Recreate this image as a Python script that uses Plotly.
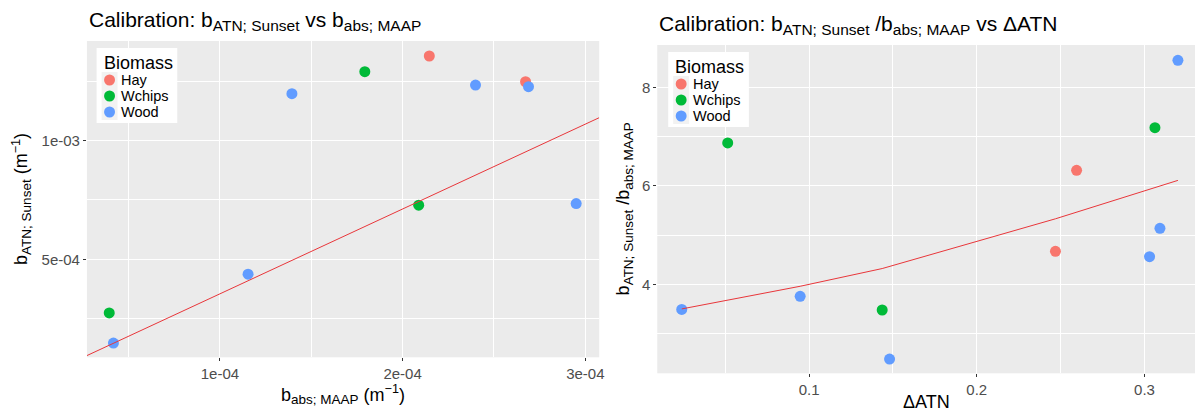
import plotly.graph_objects as go

# ---------------- data ----------------
groups = ["Hay", "Wchips", "Wood"]
colors = {"Hay": "#F8766D", "Wchips": "#00BA38", "Wood": "#619CFF"}

# left panel: b_abs;MAAP (x) vs b_ATN;Sunset (y)
left_hay_x = [2.146e-4, 2.673e-4]
left_hay_y = [1.357e-3, 1.2485e-3]
left_wchips_x = [1.793e-4, 2.088e-4, 0.394e-4]
left_wchips_y = [1.291e-3, 7.28e-4, 2.74e-4]
left_wood_x = [1.394e-4, 2.399e-4, 2.689e-4, 2.950e-4, 1.154e-4, 0.417e-4]
left_wood_y = [1.198e-3, 1.2346e-3, 1.2275e-3, 7.35e-4, 4.37e-4, 1.47e-4]
left_fit_x = [2.72e-5, 3.076e-4]
left_fit_y = [9.4e-5, 1.097e-3]

# right panel: dATN (x) vs ratio (y)
right_hay_x = [0.2595, 0.2469]
right_hay_y = [6.315, 4.67]
right_wchips_x = [0.3062, 0.0515, 0.1436]
right_wchips_y = [7.18, 6.87, 3.478]
right_wood_x = [0.3199, 0.3092, 0.3030, 0.0241, 0.0947, 0.1480]
right_wood_y = [8.548, 5.137, 4.562, 3.49, 3.756, 2.483]
right_fit_x = [0.0241, 0.0947, 0.1436, 0.2469, 0.3199]
right_fit_y = [3.50, 3.96, 4.32, 5.33, 6.11]

left_xticks = [1e-4, 2e-4, 3e-4]
left_xlabels = ["1e-04", "2e-04", "3e-04"]
left_yticks = [5e-4, 1e-3]
left_ylabels = ["5e-04", "1e-03"]
right_xticks = [0.1, 0.2, 0.3]
right_xlabels = ["0.1", "0.2", "0.3"]
right_yticks = [4, 6, 8]
right_ylabels = ["4", "6", "8"]

legend_title = "Biomass"

# ---------------- figure ----------------
W, H = 1203, 413
FONT = "Arial, 'Liberation Sans', sans-serif"
fig = go.Figure()

left_data = {"Hay": (left_hay_x, left_hay_y), "Wchips": (left_wchips_x, left_wchips_y),
             "Wood": (left_wood_x, left_wood_y)}
right_data = {"Hay": (right_hay_x, right_hay_y), "Wchips": (right_wchips_x, right_wchips_y),
              "Wood": (right_wood_x, right_wood_y)}

MS = 11
for g in groups:
    x, y = left_data[g]
    fig.add_trace(go.Scatter(x=x, y=y, mode="markers", name=g, xaxis="x", yaxis="y",
                             marker=dict(color=colors[g], size=MS), showlegend=False))
fig.add_trace(go.Scatter(x=left_fit_x, y=left_fit_y, mode="lines", xaxis="x", yaxis="y",
                         line=dict(color="#E8363A", width=1), showlegend=False, hoverinfo="skip"))
for g in groups:
    x, y = right_data[g]
    fig.add_trace(go.Scatter(x=x, y=y, mode="markers", name=g, xaxis="x2", yaxis="y2",
                             marker=dict(color=colors[g], size=MS), showlegend=False))
fig.add_trace(go.Scatter(x=right_fit_x, y=right_fit_y, mode="lines", xaxis="x2", yaxis="y2",
                         line=dict(color="#E8363A", width=1), showlegend=False, hoverinfo="skip"))


def px_x(p):
    return p / W


def px_y(p):
    return 1 - p / H


def sub(t, size):
    return f"<sub><span style='font-size:{size}px'>{t}</span></sub>"


tickfont = dict(family=FONT, size=15, color="#4D4D4D")
common = dict(showgrid=True, gridcolor="white", gridwidth=1.1, zeroline=False, showline=False,
              ticks="outside", ticklen=3, tickwidth=1, tickcolor="#333333", tickfont=tickfont,
              tickmode="array")

fig.update_layout(
    width=W, height=H, autosize=False,
    margin=dict(l=0, r=0, t=0, b=0),
    paper_bgcolor="white", plot_bgcolor="#EBEBEB",
    font=dict(family=FONT, color="black"),
    showlegend=False,
    xaxis=dict(domain=[px_x(87.3), px_x(601.7)], range=[0.272e-4, 3.076e-4], anchor="y",
               tickvals=left_xticks, ticktext=left_xlabels,
               minor=dict(tickmode="array", tickvals=[0.5e-4, 1.5e-4, 2.5e-4], showgrid=True,
                          gridcolor="white", gridwidth=0.5, ticks=""), **common),
    yaxis=dict(domain=[px_y(357.3), px_y(41)], range=[0.868e-4, 1.4203e-3], anchor="x",
               tickvals=left_yticks, ticktext=left_ylabels,
               minor=dict(tickmode="array", tickvals=[2.5e-4, 7.5e-4, 1.25e-3], showgrid=True,
                          gridcolor="white", gridwidth=0.5, ticks=""), **common),
    xaxis2=dict(domain=[px_x(660), px_x(1200)], range=[0.0095, 0.3301], anchor="y2",
                tickvals=right_xticks, ticktext=right_xlabels,
                minor=dict(tickmode="array", tickvals=[0.05, 0.15, 0.25], showgrid=True,
                           gridcolor="white", gridwidth=0.5, ticks=""), **common),
    yaxis2=dict(domain=[px_y(373.3), px_y(45)], range=[2.193, 8.859], anchor="x2",
                tickvals=right_yticks, ticktext=right_ylabels,
                minor=dict(tickmode="array", tickvals=[3, 5, 7], showgrid=True,
                           gridcolor="white", gridwidth=0.5, ticks=""), **common),
)

ann = []
shapes = []
# panel titles
ann.append(dict(text="Calibration: b" + sub("ATN; Sunset", 15.5) + " vs b" + sub("abs; MAAP", 15.5),
                x=px_x(87), y=px_y(21), xanchor="left", yanchor="middle",
                font=dict(size=21, family=FONT, color="black")))
ann.append(dict(text="Calibration: b" + sub("ATN; Sunset", 15.5) + " /b" + sub("abs; MAAP", 15.5)
                + " vs \u0394ATN",
                x=px_x(660), y=px_y(25), xanchor="left", yanchor="middle",
                font=dict(size=21, family=FONT, color="black")))
# axis titles
ann.append(dict(text="b" + sub("abs; MAAP", 13.5) + " (m<sup>\u22121</sup>)", x=px_x(344.5), y=px_y(394),
                xanchor="center", yanchor="middle", font=dict(size=18, family=FONT, color="black")))
ann.append(dict(text="b" + sub("ATN; Sunset", 13.5) + " (m<sup>\u22121</sup>)", x=px_x(22), y=px_y(199),
                xanchor="center", yanchor="middle", textangle=-90,
                font=dict(size=18, family=FONT, color="black")))
ann.append(dict(text="\u0394ATN", x=px_x(930), y=px_y(402),
                xanchor="center", yanchor="middle", font=dict(size=18, family=FONT, color="black")))
ann.append(dict(text="b" + sub("ATN; Sunset", 13.5) + " /b" + sub("abs; MAAP", 13.5),
                x=px_x(628), y=px_y(209),
                xanchor="center", yanchor="middle", textangle=-90,
                font=dict(size=18, family=FONT, color="black")))


# manual ggplot-style legends (box, title, grey keys, dots, labels)
def add_legend(bx, by):
    # bx, by: top-left pixel of legend box
    shapes.append(dict(type="rect", xref="paper", yref="paper", x0=px_x(bx), x1=px_x(bx + 81),
                       y0=px_y(by + 75), y1=px_y(by), fillcolor="white", line=dict(width=0),
                       layer="above"))
    ann.append(dict(text=legend_title, x=px_x(bx + 5), y=px_y(by + 14.5), xanchor="left",
                    yanchor="middle", font=dict(size=18, family=FONT, color="black")))
    for i, g in enumerate(groups):
        cy = by + 32 + 16 * i
        cx = bx + 13
        shapes.append(dict(type="rect", xref="paper", yref="paper", x0=px_x(cx - 8), x1=px_x(cx + 8),
                           y0=px_y(cy + 8), y1=px_y(cy - 8), fillcolor="#F2F2F2",
                           line=dict(width=0), layer="above"))
        r = MS / 2
        shapes.append(dict(type="circle", xref="paper", yref="paper", x0=px_x(cx - r), x1=px_x(cx + r),
                           y0=px_y(cy + r), y1=px_y(cy - r), fillcolor=colors[g],
                           line=dict(width=0), layer="above"))
        ann.append(dict(text=g, x=px_x(bx + 22.5), y=px_y(cy), xanchor="left", yanchor="middle",
                        font=dict(size=14.5, family=FONT, color="black")))


add_legend(97, 48)
add_legend(671, 52)

for a in ann:
    a.update(xref="paper", yref="paper", showarrow=False)
fig.update_layout(annotations=ann, shapes=shapes)

fig.write_html("out.html")
